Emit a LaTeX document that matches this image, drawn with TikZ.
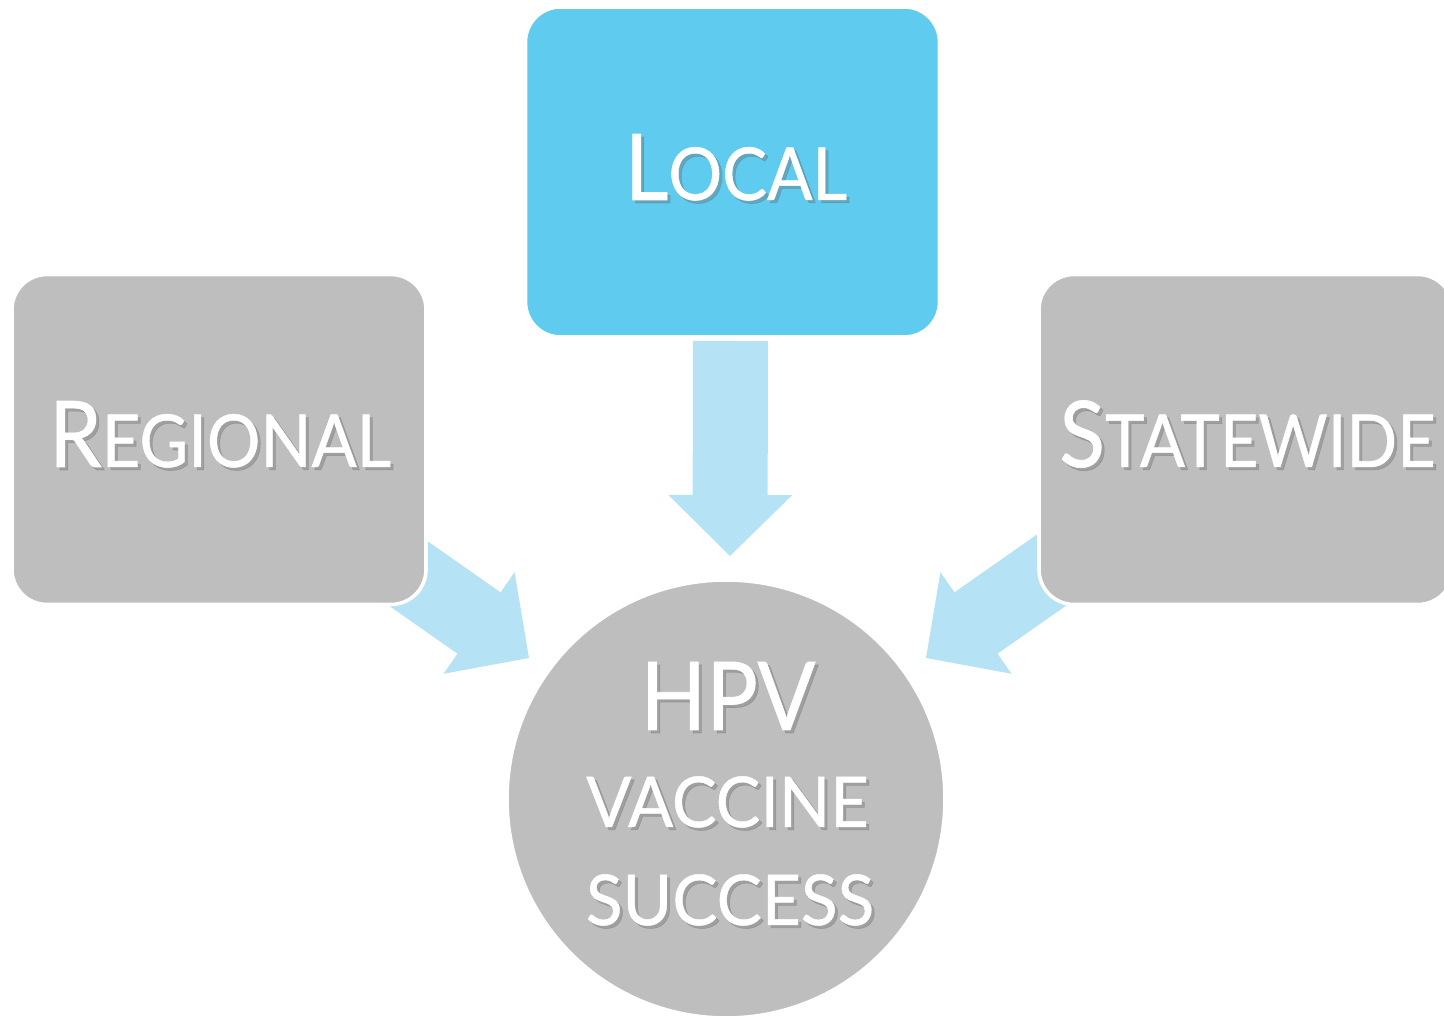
\documentclass[tikz,border=0pt]{standalone}
\usepackage{fontspec}
\setmainfont{Lato}[FakeBold=0.7]
\usetikzlibrary{calc}
\definecolor{boxgray}{HTML}{BEBEBE}
\definecolor{boxblue}{HTML}{5ECBEF}
\definecolor{arrblue}{HTML}{B5E2F5}
\newcommand\smcaps[4]{{\fontsize{#1}{#1}\selectfont #3}{\fontsize{#2}{#2}\selectfont #4}}
% block arrow from coordinate #1 to tip #2
\newcommand\blockarrow[2]{%
  \coordinate (h-#2) at ($(#2)!30.5pt!(#1)$);
  \fill[arrblue] ($(#1)!18.75pt!90:(#2)$) -- ($(h-#2)!18.75pt!-90:(#1)$)
     -- ($(h-#2)!31pt!-90:(#1)$) -- (#2) -- ($(h-#2)!31pt!90:(#1)$)
     -- ($(h-#2)!18.75pt!90:(#1)$) -- ($(#1)!18.75pt!-90:(#2)$) -- cycle;}
\tikzset{
  card/.style={rectangle, rounded corners=17.5pt, minimum width=207pt, minimum height=165pt,
    draw=white, line width=1.8pt, inner sep=0pt},
  hub/.style={circle, fill=boxgray, draw=white, line width=1.8pt, minimum size=219pt, inner sep=0pt},
  lbl/.style={anchor=base, inner sep=0pt, text=white},
  lblsh/.style={anchor=base, inner sep=0pt, text=black!60, opacity=0.35}
}
% #1 name, #2 position, #3 x-scale, #4 text
\newcommand\shtext[4]{%
  \node[lblsh] (#1s) at ($(#2)+(1.5pt,-1.5pt)$) {\scalebox{#3}[1]{#4}};
  \node[lbl] (#1) at (#2) {\scalebox{#3}[1]{#4}};}
\begin{document}
\begin{tikzpicture}[x=0.5pt,y=0.5pt]
\useasboundingbox (0,0) rectangle (1444,1016);
\clip (0,0) rectangle (1444,1016);
% arrow coordinates
\coordinate (la) at (381.6,461.2);
\coordinate (lb) at (529,358);
\coordinate (ra) at (1073.4,461.2);
\coordinate (rb) at (926,358);
\coordinate (da) at (730.5,675);
\coordinate (db) at (730,460);
\blockarrow{la}{lb}
\blockarrow{ra}{rb}
\blockarrow{da}{db}
% boxes
\node[card, fill=boxblue] (local) at (732.5,844) {};
\node[card, fill=boxgray] (regional) at (219,576.5) {};
\node[card, fill=boxgray] (statewide) at (1246,576.5) {};
\node[hub] (hpv) at (726,217) {};
% texts
\coordinate (tl) at (736,816);
\coordinate (tr) at (220,549);
\coordinate (ts) at (1247.5,549);
\coordinate (t1) at (728,286);
\coordinate (t2) at (727.5,189);
\coordinate (t3) at (730,91);
\shtext{localtxt}{tl}{0.92}{\smcaps{46}{36.5}{L}{OCAL}}
\shtext{regtxt}{tr}{0.915}{\smcaps{46}{36.5}{R}{EGIONAL}}
\shtext{statetxt}{ts}{0.915}{\smcaps{46}{36.5}{S}{TATEWIDE}}
\shtext{hpvtxt}{t1}{0.905}{\fontsize{47.5}{47.5}\selectfont HPV}
\shtext{vactxt}{t2}{0.955}{\fontsize{35}{35}\selectfont VACCINE}
\shtext{suctxt}{t3}{0.966}{\fontsize{35}{35}\selectfont SUCCESS}
\end{tikzpicture}
\end{document}
